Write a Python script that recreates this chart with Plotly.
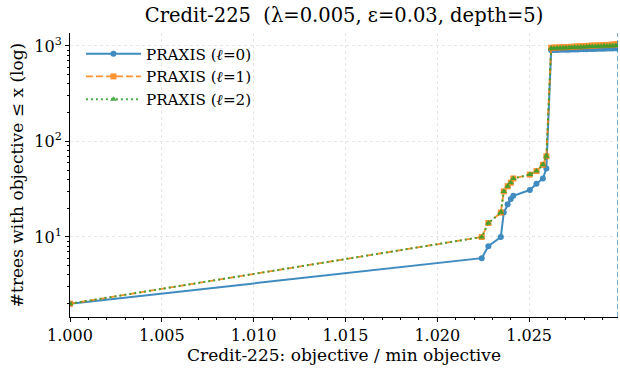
import plotly.graph_objects as go

# Sorted objective ratios (objective / min objective) and cumulative tree counts
x_low = [1.00000, 1.02242, 1.02278, 1.02346, 1.02362, 1.02383, 1.02400,
         1.02414, 1.02504, 1.02540, 1.02575, 1.02594]
x_top = [1.02620, 1.02636, 1.02652, 1.02668, 1.02684, 1.02700, 1.02716,
         1.02732, 1.02748, 1.02764, 1.02780, 1.02796, 1.02812, 1.02828,
         1.02844, 1.02860, 1.02876, 1.02892, 1.02908, 1.02924, 1.02940,
         1.02956, 1.02972, 1.02984]

count_l0_low = [2, 6, 8, 10, 18, 22, 25, 27, 31, 36, 41, 52]
count_l0_top = [905, 908, 910, 912, 912, 915, 916, 918, 918, 920, 922, 925,
                927, 928, 930, 932, 935, 936, 938, 940, 941, 943, 945, 946]

count_l1_low = [2, 10, 14, 18, 30, 34, 37, 41, 45, 49, 57, 70]
count_l1_top = [958, 962, 965, 968, 970, 972, 975, 980, 985, 990, 992, 995,
                1000, 1005, 1010, 1012, 1015, 1020, 1022, 1025, 1030, 1035,
                1040, 1045]

count_l2_low = [2, 10, 14, 18, 30, 34, 37, 41, 45, 49, 57, 70]
count_l2_top = [945, 948, 950, 952, 955, 958, 960, 965, 968, 972, 975, 978,
                982, 985, 988, 990, 992, 995, 998, 1000, 1003, 1006, 1010,
                1012]

x_ticks = [1.000, 1.005, 1.010, 1.015, 1.020, 1.025]
y_ticks = [10, 100, 1000]
y_tick_text = ["10<sup>1</sup>", "10<sup>2</sup>", "10<sup>3</sup>"]
y_minor = [2, 3, 4, 5, 6, 7, 8, 9, 20, 30, 40, 50, 60, 70, 80, 90,
           200, 300, 400, 500, 600, 700, 800, 900]

x_max = x_top[-1]
FONT = "DejaVu Serif"
BLUE, ORANGE, GREEN = "#1f77b4", "#ff7f0e", "#2ca02c"

series = [
    ("PRAXIS (<i>ℓ</i>=0)", count_l0_low + count_l0_top, BLUE, "solid", 2.0, "circle", 6),
    ("PRAXIS (<i>ℓ</i>=1)", count_l1_low + count_l1_top, ORANGE, "7px,3px", 1.8, "square", 6),
    ("PRAXIS (<i>ℓ</i>=2)", count_l2_low + count_l2_top, GREEN, "2px,3px", 2.0, "triangle-up", 6),
]

fig = go.Figure()
for i, (name, ys, color, dash, lw, symbol, msize) in enumerate(series):
    fig.add_trace(go.Scatter(
        x=x_low + x_top, y=ys, name=name, mode="lines+markers",
        legendgroup=f"g{i}",
        line=dict(color=color, width=lw, dash=dash),
        marker=dict(color=color, symbol=symbol, size=msize, line=dict(width=0)),
        opacity=0.85,
    ))

# Vertical reference line at the largest objective ratio
fig.add_shape(type="line", x0=x_max, x1=x_max, xref="x", y0=0, y1=1,
              yref="paper", line=dict(color=BLUE, width=1.5, dash="5px,3px"),
              opacity=0.8)

grid = "#e6e6e6"
fig.update_layout(
    width=620, height=372,
    margin=dict(l=70, r=2, t=33, b=55),
    paper_bgcolor="white", plot_bgcolor="white",
    font=dict(family=FONT, size=16, color="black"),
    title=dict(text="Credit-225\u00a0\u00a0(λ=0.005, ε=0.03, depth=5)",
               x=0.555, xanchor="center", y=0.958, yanchor="middle",
               font=dict(family=FONT, size=19.5)),
    showlegend=True,
    legend=dict(x=0.02, y=0.985, xanchor="left", yanchor="top",
                bgcolor="rgba(0,0,0,0)", font=dict(family=FONT, size=15.2),
                traceorder="grouped", tracegroupgap=0, itemwidth=55),
    xaxis=dict(
        range=[1.0, x_max], tickvals=x_ticks,
        ticktext=[f"{v:.3f}" for v in x_ticks],
        showline=True, linecolor="black", linewidth=1, mirror=False,
        ticks="outside", ticklen=4, tickcolor="black",
        showgrid=True, gridcolor=grid, griddash="3px,3px", gridwidth=0.8,
        zeroline=False, tickfont=dict(family=FONT, size=16),
        minor=dict(dtick=0.001, tick0=1.0, ticks="outside", ticklen=2,
                   tickcolor="black", showgrid=False),
        title=dict(text="Credit-225: objective / min objective",
                   font=dict(family=FONT, size=17), standoff=4),
    ),
    yaxis=dict(
        type="log", range=[0.162, 3.136], tickvals=y_ticks,
        ticktext=y_tick_text,
        showline=True, linecolor="black", linewidth=1, mirror=False,
        ticks="outside", ticklen=4, tickcolor="black",
        showgrid=True, gridcolor=grid, griddash="3px,3px", gridwidth=0.8,
        zeroline=False, tickfont=dict(family=FONT, size=16),
        minor=dict(tickmode="array", tickvals=y_minor, ticks="outside",
                   ticklen=2, tickcolor="black", showgrid=False),
        title=dict(text="#trees with objective ≤ x (log)",
                   font=dict(family=FONT, size=17), standoff=6),
    ),
)

fig.write_html("out.html")
